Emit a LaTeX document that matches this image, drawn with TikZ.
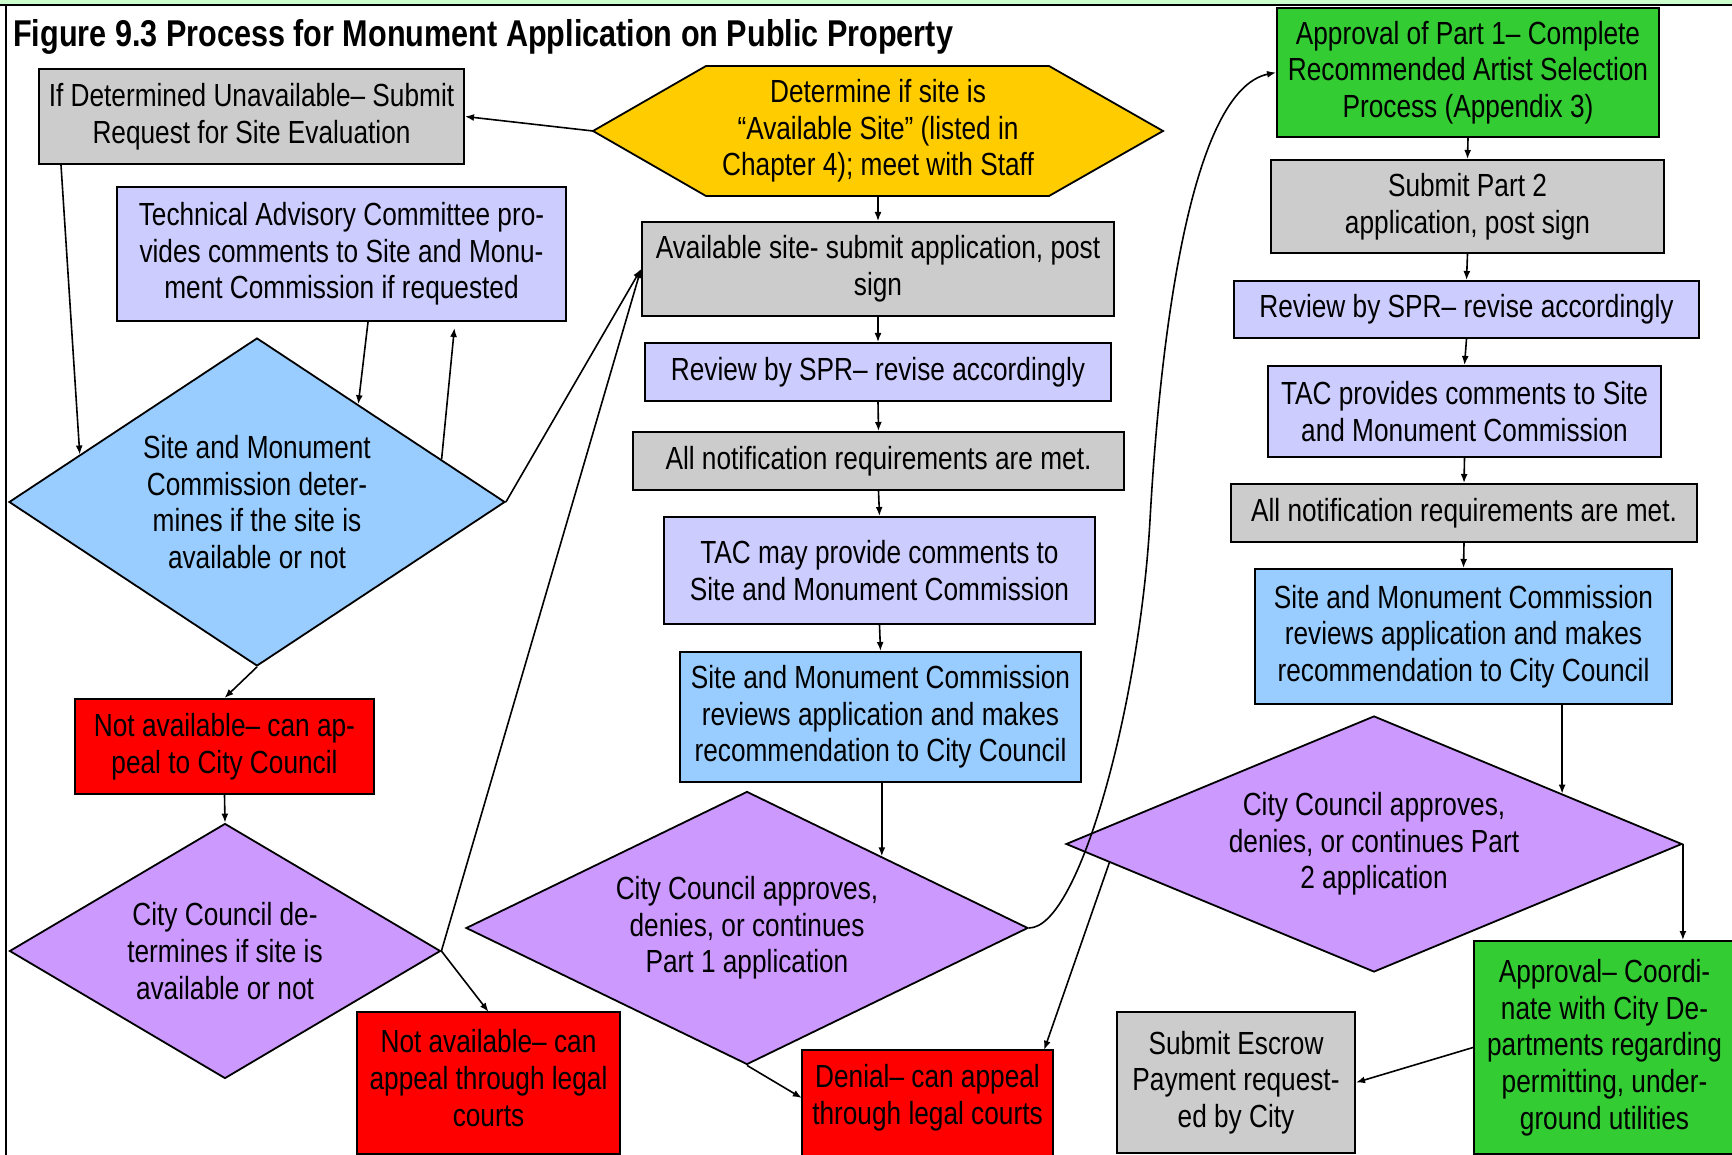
\documentclass[tikz,border=0pt]{standalone}
\usepackage{fontspec}
\setmainfont{Liberation Sans}[FakeStretch=0.82]
\newfontfamily\mytitlefam{Liberation Sans Bold}[FakeStretch=0.82]
\usetikzlibrary{shapes.geometric,arrows.meta}
\newcommand{\mybodyfont}{\fontsize{32}{36.7}\selectfont}
\newcommand{\mytitlefont}{\mytitlefam\fontsize{37.3}{42}\selectfont}
\definecolor{cgray}{HTML}{CCCCCC}
\definecolor{clav}{HTML}{CCCCFF}
\definecolor{cblue}{HTML}{99CCFF}
\definecolor{cgold}{HTML}{FFCC00}
\definecolor{cpurp}{HTML}{CC99FF}
\definecolor{cred}{HTML}{FF0000}
\definecolor{cgreen}{HTML}{33CC33}
\definecolor{cband}{HTML}{CCFFCC}
\tikzset{
  box/.style={draw=black, line width=2pt, inner sep=0pt, align=center, font=\mybodyfont},
  textonly/.style={inner sep=0pt, align=center, font=\mybodyfont},
  dia/.style={diamond, draw=black, line width=1.8pt, inner sep=0pt, align=center, font=\mybodyfont},
  arr/.style={-{Latex[length=9pt,width=7pt]}, line width=1.6pt},
}
\begin{document}
\begin{tikzpicture}[x=1pt,y=-1pt]
\clip (0,0) rectangle (1732,1155);
\fill[white] (0,0) rectangle (1732,1155);
\fill[cband] (0,0) rectangle (1732,4);
\draw[line width=2pt] (0,5) -- (1732,5);
\draw[line width=2pt] (6,5) -- (6,1155);

\node[anchor=base west, font=\mytitlefont, inner sep=0pt] (title) at (13,47) {Figure 9.3 Process for Monument Application on Public Property};

% left column
\node[box, fill=cgray, minimum width=425pt, minimum height=95pt] (A) at (251.5,116.5) {If Determined Unavailable– Submit\\Request for Site Evaluation};
\node[box, fill=clav, minimum width=449pt, minimum height=134pt] (T) at (341.5,254) {Technical Advisory Committee pro-\\vides comments to Site and Monu-\\ment Commission if requested};
\node[dia, fill=cblue, minimum width=496pt, minimum height=328pt, aspect=1.512] (S) at (257,502) {Site and Monument\\Commission deter-\\mines if the site is\\available or not};
\node[box, fill=cred, minimum width=299pt, minimum height=95pt] (N1) at (224.5,746.5) {Not available– can ap-\\peal to City Council};
\node[dia, fill=cpurp, minimum width=431pt, minimum height=255pt, aspect=1.69] (CC) at (225,951) {City Council de-\\termines if site is\\available or not};
\draw[line width=2pt, fill=cred] (357,1012) rectangle (620,1154);
\node[textonly, minimum width=263pt, minimum height=132pt] (N2) at (488.5,1078) {Not available– can\\appeal through legal\\courts};

% centre column
\draw[fill=cgold, line width=1.8pt] (593,131) -- (706,66) -- (1049,66) -- (1163,131) -- (1049,196) -- (706,196) -- cycle;
\node[textonly, minimum height=130pt] (hex) at (878,131) {Determine if site is\\“Available Site” (listed in\\Chapter 4); meet with Staff};
\coordinate (hexW) at (593,131);
\node[box, fill=cgray, minimum width=472pt, minimum height=94pt] (B) at (878,269) {Available site- submit application, post\\sign};
\node[box, fill=clav, minimum width=466pt, minimum height=58pt] (C) at (878,372) {Review by SPR– revise accordingly};
\node[box, fill=cgray, minimum width=491pt, minimum height=58pt] (D) at (878.5,461) {All notification requirements are met.};
\node[box, fill=clav, minimum width=431pt, minimum height=107pt] (E) at (879.5,570.5) {TAC may provide comments to\\Site and Monument Commission};
\node[box, fill=cblue, minimum width=401pt, minimum height=130pt] (F) at (880.5,717) {Site and Monument Commission\\reviews application and makes\\recommendation to City Council};
\node[dia, fill=cpurp, minimum width=562pt, minimum height=273pt, aspect=2.06] (G) at (747,928) {City Council approves,\\denies, or continues\\Part 1 application};
\draw[line width=2pt, fill=cred] (802,1050) rectangle (1053,1175);
\node[textonly, minimum width=251pt, minimum height=96pt] (H) at (927.5,1098) {Denial– can appeal\\through legal courts};

% right column
\node[box, fill=cgreen, minimum width=382pt, minimum height=129pt] (P1) at (1468,72.5) {Approval of Part 1– Complete\\Recommended Artist Selection\\Process (Appendix 3)};
\node[box, fill=cgray, minimum width=393pt, minimum height=93pt] (P2) at (1467.5,206.5) {Submit Part 2\\application, post sign};
\node[box, fill=clav, minimum width=465pt, minimum height=57pt] (R2) at (1466.5,309.5) {Review by SPR– revise accordingly};
\node[box, fill=clav, minimum width=393pt, minimum height=91pt] (TAC2) at (1464.5,411.5) {TAC provides comments to Site\\and Monument Commission};
\node[box, fill=cgray, minimum width=466pt, minimum height=58pt] (N3) at (1464,513) {All notification requirements are met.};
\node[box, fill=cblue, minimum width=417pt, minimum height=135pt] (SMC2) at (1463.5,636.5) {Site and Monument Commission\\reviews application and makes\\recommendation to City Council};
\node[dia, fill=cpurp, minimum width=616pt, minimum height=256pt, aspect=2.41] (P2D) at (1374,844) {City Council approves,\\denies, or continues Part\\2 application};
\node[box, fill=cgray, minimum width=238pt, minimum height=141pt] (Esc) at (1236,1082.5) {Submit Escrow\\Payment request-\\ed by City};
\node[box, fill=cgreen, minimum width=261pt, minimum height=213pt] (AP) at (1604.5,1047.5) {Approval– Coordi-\\nate with City De-\\partments regarding\\permitting, under-\\ground utilities};

% connectors
\draw[arr] (hexW) -- (A.east);
\draw[arr] (hex.south) -- (B.north);
\draw[arr] (B.south) -- (C.north);
\draw[arr] (C.south) -- (D.north);
\draw[arr] (D.south) -- (E.north);
\draw[arr] (E.south) -- (F.north);
\draw[arr] (G.28 |- F.south) -- (G.28);
\draw[arr] (G.south) -- (H.west);
\coordinate (mid) at (1150,520);
\draw[arr] (G.east) .. controls (1080,928) and (1140,700) .. (mid) .. controls (1160,340) and (1190,90) .. (P1.west);

\draw[arr] ([xshift=23pt]A.south west) -- (S.165);
\draw[arr] ([xshift=26.5pt]T.south) -- (S.44);
\draw[arr, shorten >=6pt] (S.13) -- ([xshift=113.5pt]T.south);
\draw[arr] (S.south) -- (N1.north);
\draw[arr] (N1.south) -- (CC.north);
\draw[arr] (CC.east) -- (N2.north);
\draw[arr] (S.east) -- (B.west);
\draw[arr] (CC.east) -- (B.west);

\draw[arr] (P1.south) -- (P2.north);
\draw[arr] (P2.south) -- (R2.north);
\draw[arr] (R2.south) -- (TAC2.north);
\draw[arr] (TAC2.south) -- (N3.north);
\draw[arr] (N3.south) -- (SMC2.north);
\draw[arr] (P2D.15 |- SMC2.south) -- (P2D.15);
\draw[arr] (P2D.east) -- (P2D.east |- AP.north);
\draw[arr] (P2D.184) -- ([xshift=-9pt]H.north east);
\draw[arr] (AP.west) -- (Esc.east);
\end{tikzpicture}
\end{document}
